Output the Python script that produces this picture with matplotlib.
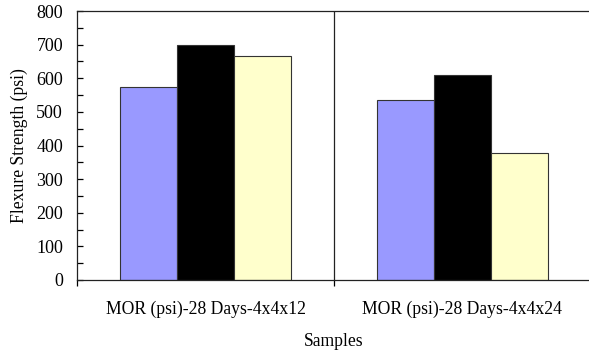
import numpy as np
import matplotlib
matplotlib.use("Agg")
import matplotlib.pyplot as plt
from matplotlib.ticker import MultipleLocator, FixedLocator

# values
categories = ["MOR (psi)-28 Days-4x4x12", "MOR (psi)-28 Days-4x4x24"]
series_a = [575, 535]
series_b = [700, 610]
series_c = [665, 378]
colors = ["#9999FF", "#000000", "#FFFFCC"]

plt.rcParams['font.family'] = ['Liberation Serif', 'DejaVu Serif']

fig = plt.figure(figsize=(5.89, 3.54), dpi=100)
ax = fig.add_axes([77/589, 74/354, 514/589, 269/354])

x = np.arange(len(categories))
w = 0.222
for i, vals in enumerate([series_a, series_b, series_c]):
    ax.bar(x + (i - 1) * w, vals, width=w, color=colors[i],
           edgecolor="#333333", linewidth=0.8)

ax.set_xlim(-0.5, 1.5)
ax.set_ylim(0, 800)
ax.axvline(0.5, color="#222222", linewidth=0.9)

ax.yaxis.set_major_locator(MultipleLocator(100))
ax.yaxis.set_minor_locator(MultipleLocator(50))
ax.tick_params(axis='y', which='both', direction='in', length=4, width=0.9,
               labelsize=13, pad=10)
ax.set_xticks(x)
ax.set_xticklabels(categories)
ax.xaxis.set_minor_locator(FixedLocator([-0.5, 0.5, 1.5]))
ax.tick_params(axis='x', which='major', length=0, labelsize=12.7, pad=15)
ax.tick_params(axis='x', which='minor', direction='out', length=4, width=0.9)

for side in ["left", "bottom", "top"]:
    ax.spines[side].set_linewidth(0.9)
    ax.spines[side].set_color("#222222")
ax.spines["right"].set_visible(False)

ax.set_ylabel("Flexure Strength (psi)", fontsize=12.7, labelpad=6)
ax.set_xlabel("Samples", fontsize=12.7, labelpad=11)

fig.savefig("out.png", dpi=100)
